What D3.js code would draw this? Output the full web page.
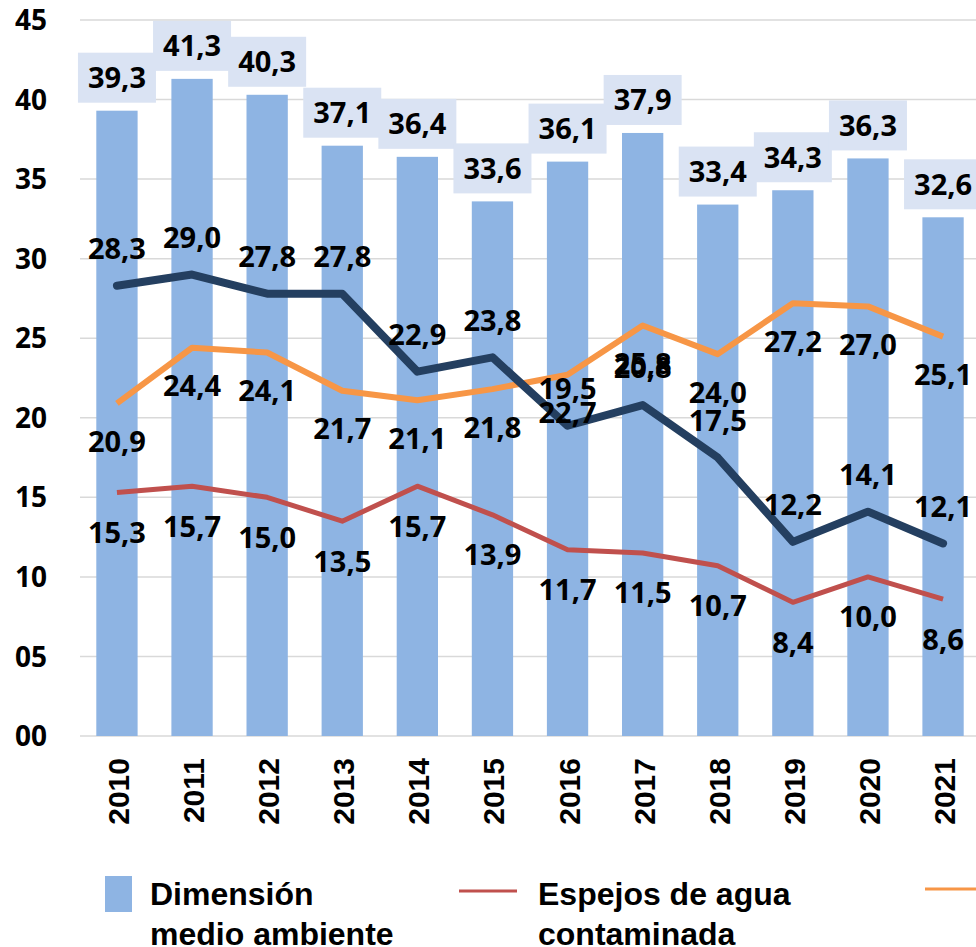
<!DOCTYPE html>
<html>
<head>
<meta charset="utf-8">
<script src="https://cdn.jsdelivr.net/npm/d3@7"></script>
<style>
  body { margin: 0; background: #fff; }
  text { font-family: "Liberation Sans", Arial, sans-serif; font-weight: bold; }
  .lbl { font-family: "Open Sans", "Liberation Sans", sans-serif; font-weight: 700; }
</style>
</head>
<body>
<div id="viz"></div>
<script>
// data
var years = ["2010","2011","2012","2013","2014","2015","2016","2017","2018","2019","2020","2021"];
var dimension = [39.3, 41.3, 40.3, 37.1, 36.4, 33.6, 36.1, 37.9, 33.4, 34.3, 36.3, 32.6];
var navySeries = [28.3, 29.0, 27.8, 27.8, 22.9, 23.8, 19.5, 20.8, 17.5, 12.2, 14.1, 12.1];
var orangeSeries = [20.9, 24.4, 24.1, 21.7, 21.1, 21.8, 22.7, 25.8, 24.0, 27.2, 27.0, 25.1];
var espejos = [15.3, 15.7, 15.0, 13.5, 15.7, 13.9, 11.7, 11.5, 10.7, 8.4, 10.0, 8.6];
var yTicks = [0, 5, 10, 15, 20, 25, 30, 35, 40, 45];

var W = 976, H = 947;
var fmt = function(v) { return v.toFixed(1).replace(".", ","); };

var svg = d3.select("#viz")
  .append("svg")
  .attr("width", W)
  .attr("height", H);

// scales (plot runs to the right edge, like the reference)
var x = d3.scaleBand()
  .domain(years)
  .range([80, 980])
  .paddingInner(0.45)
  .paddingOuter(0.217);

var y = d3.scaleLinear()
  .domain([0, 45])
  .range([736, 20]);

var cx = function(i) { return x(years[i]) + x.bandwidth() / 2; };

// gridlines
svg.append("g")
  .selectAll("line")
  .data(yTicks)
  .enter().append("line")
  .attr("x1", 80).attr("x2", W)
  .attr("y1", function(d) { return y(d); })
  .attr("y2", function(d) { return y(d); })
  .attr("stroke", "#d9d9d9")
  .attr("stroke-width", 1.5);

// y axis labels
svg.append("g")
  .selectAll("text")
  .data(yTicks)
  .enter().append("text")
  .attr("class", "lbl")
  .attr("x", 47)
  .attr("y", function(d) { return y(d); })
  .attr("dy", "0.36em")
  .attr("text-anchor", "end")
  .style("font-size", "28px")
  .text(function(d) { return d3.format("02d")(d); });

// x axis labels (rotated)
svg.append("g")
  .selectAll("text")
  .data(years)
  .enter().append("text")
  .attr("transform", function(d, i) { return "translate(" + (cx(i) + 12) + ",758) rotate(-90)"; })
  .attr("text-anchor", "end")
  .style("font-size", "30px")
  .text(function(d) { return d; });

// bars
svg.append("g")
  .selectAll("rect")
  .data(dimension)
  .enter().append("rect")
  .attr("x", function(d, i) { return x(years[i]); })
  .attr("y", function(d) { return y(d); })
  .attr("width", x.bandwidth())
  .attr("height", function(d) { return y(0) - y(d); })
  .attr("fill", "#8eb4e3");

// lines
var line = d3.line()
  .x(function(d, i) { return cx(i); })
  .y(function(d) { return y(d); });

svg.append("path").datum(espejos)
  .attr("fill", "none").attr("stroke", "#c0504d").attr("stroke-width", 5)
  .attr("stroke-linejoin", "round").attr("d", line);
svg.append("path").datum(orangeSeries)
  .attr("fill", "none").attr("stroke", "#f79646").attr("stroke-width", 6)
  .attr("stroke-linejoin", "round").attr("d", line);
svg.append("path").datum(navySeries)
  .attr("fill", "none").attr("stroke", "#243f60").attr("stroke-width", 8)
  .attr("stroke-linejoin", "round").attr("stroke-linecap", "round").attr("d", line);

// bar labels with light boxes
var barLbl = svg.append("g").selectAll("g")
  .data(dimension)
  .enter().append("g")
  .attr("transform", function(d, i) { return "translate(" + cx(i) + "," + (y(d) - 33) + ")"; });
barLbl.append("rect")
  .attr("x", -39).attr("y", -25).attr("width", 78).attr("height", 50)
  .attr("fill", "#dae3f3");
barLbl.append("text")
  .attr("class", "lbl")
  .attr("text-anchor", "middle")
  .attr("dy", "0.36em")
  .style("font-size", "29px")
  .text(fmt);

// line labels
function lineLabels(data, offset) {
  svg.append("g").selectAll("text")
    .data(data)
    .enter().append("text")
    .attr("class", "lbl")
    .attr("x", function(d, i) { return cx(i); })
    .attr("y", function(d) { return y(d) + offset; })
    .attr("dy", "0.36em")
    .attr("text-anchor", "middle")
    .style("font-size", "29px")
    .text(fmt);
}
lineLabels(navySeries, -37);
lineLabels(orangeSeries, 38);
lineLabels(espejos, 40);

// legend
var lg = svg.append("g");
lg.append("rect").attr("x", 105).attr("y", 876).attr("width", 27).attr("height", 36).attr("fill", "#8eb4e3");
lg.append("text").attr("x", 150).attr("y", 905).style("font-size", "32px").text("Dimensión");
lg.append("text").attr("x", 150).attr("y", 945).style("font-size", "32px").text("medio ambiente");
lg.append("line").attr("x1", 459).attr("x2", 517).attr("y1", 891).attr("y2", 891)
  .attr("stroke", "#c0504d").attr("stroke-width", 3);
lg.append("text").attr("x", 538).attr("y", 905).style("font-size", "32px").text("Espejos de agua");
lg.append("text").attr("x", 538).attr("y", 945).style("font-size", "32px").text("contaminada");
lg.append("line").attr("x1", 925).attr("x2", 985).attr("y1", 889).attr("y2", 889)
  .attr("stroke", "#f79646").attr("stroke-width", 3);
</script>
</body>
</html>
